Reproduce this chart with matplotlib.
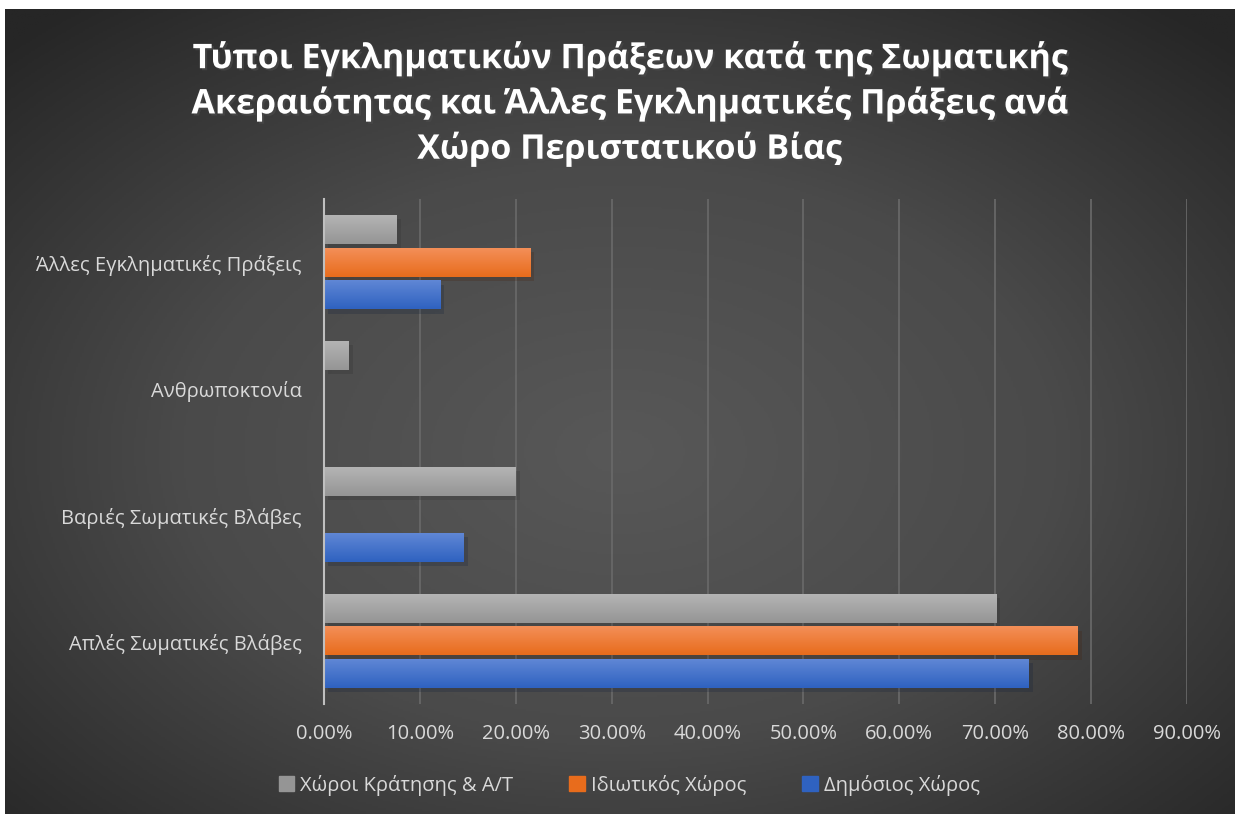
import matplotlib.pyplot as plt
import matplotlib.patheffects as pe
import numpy as np
from matplotlib.colors import LinearSegmentedColormap
from matplotlib.ticker import FuncFormatter

plt.rcParams['font.family'] = ['Open Sans', 'DejaVu Sans']

categories = ['Απλές Σωματικές Βλάβες', 'Βαριές Σωματικές Βλάβες',
              'Ανθρωποκτονία', 'Άλλες Εγκληματικές Πράξεις']
series_names = ['Χώροι Κράτησης & Α/Τ', 'Ιδιωτικός Χώρος', 'Δημόσιος Χώρος']
detention = [70.1, 20.0, 2.6, 7.6]
private = [78.6, 0.0, 0.0, 21.5]
public = [73.5, 14.6, 0.0, 12.1]
xticks = [0, 10, 20, 30, 40, 50, 60, 70, 80, 90]
title = ('Τύποι Εγκληματικών Πράξεων κατά της Σωματικής\n'
         'Ακεραιότητας και Άλλες Εγκληματικές Πράξεις ανά\n'
         'Χώρο Περιστατικού Βίας')

# (top colour, bottom colour) per series
colors = [('#b5b5b5', '#959595'), ('#f4905a', '#e86c1c'), ('#6188d6', '#2f62c0')]

fig = plt.figure(figsize=(12.41, 8.2), dpi=100)
fig.patch.set_facecolor('white')

# radial dark background
bg = fig.add_axes([5 / 1241, 5 / 820, 1230 / 1241, 805 / 820])
yy, xx = np.mgrid[0:1:400j, 0:1:600j]
r = np.sqrt(((xx - 0.5) / 0.75) ** 2 + ((yy - 0.55) / 0.75) ** 2)
bgcmap = LinearSegmentedColormap.from_list('bg', ['#585858', '#4a4a4a', '#262626'])
bg.imshow(r, cmap=bgcmap, vmin=0, vmax=0.95, aspect='auto', extent=(0, 1, 0, 1))
bg.set_axis_off()

ax = fig.add_axes([324 / 1241, 1 - 705 / 820, 863 / 1241, 505 / 820])
ax.set_facecolor('none')

y = np.arange(len(categories))
h = 0.23
step = 0.26
offsets = [step, 0, -step]
for vals, off, (c1, c2) in zip([detention, private, public], offsets, colors):
    bars = ax.barh(y + off, vals, height=h, color=c2, zorder=3,
                   path_effects=[pe.SimplePatchShadow(offset=(3, -3), alpha=0.22), pe.Normal()])
    grad = LinearSegmentedColormap.from_list('g', [c2, c1])
    for b in bars:
        if b.get_width() <= 0:
            continue
        x0, y0 = b.get_x(), b.get_y()
        im = ax.imshow(np.linspace(0, 1, 50).reshape(-1, 1), cmap=grad, aspect='auto',
                       extent=(x0, x0 + b.get_width(), y0, y0 + b.get_height()),
                       origin='lower', zorder=4)
        im.set_clip_path(b)

ax.set_xlim(0, 90)
ax.set_ylim(-0.5, 3.5)
ax.set_xticks(xticks)
ax.xaxis.set_major_formatter(FuncFormatter(lambda v, p: f'{v:.2f}%'))
ax.set_yticks(y)
ax.set_yticklabels(categories)
ax.tick_params(axis='both', length=0, colors='#d9d9d9', labelsize=14.5)
ax.tick_params(axis='x', pad=14)
ax.tick_params(axis='y', pad=16)
ax.grid(axis='x', color='#6a6a6a', linewidth=1.2, zorder=0)
for s in ['top', 'right', 'bottom']:
    ax.spines[s].set_visible(False)
ax.spines['left'].set_color('#bfbfbf')
ax.spines['left'].set_linewidth(1.5)
ax.spines['left'].set_zorder(5)

fig.text(0.507, 0.872, title, ha='center', va='center', color='white',
         fontsize=24.5, fontweight='bold', linespacing=1.38,
         path_effects=[pe.withSimplePatchShadow(offset=(1.5, -1.5), alpha=0.6)])

handles = [plt.Rectangle((0, 0), 1, 1, color=c[1]) for c in colors]
leg = fig.legend(handles, series_names, loc='center', bbox_to_anchor=(0.507, 1 - 786 / 820),
                 ncol=3, frameon=False, fontsize=14.5, handlelength=0.75, handleheight=0.75,
                 handletextpad=0.3, columnspacing=2.8)
for t in leg.get_texts():
    t.set_color('#d9d9d9')

fig.savefig('out.png', dpi=100, facecolor='white')
